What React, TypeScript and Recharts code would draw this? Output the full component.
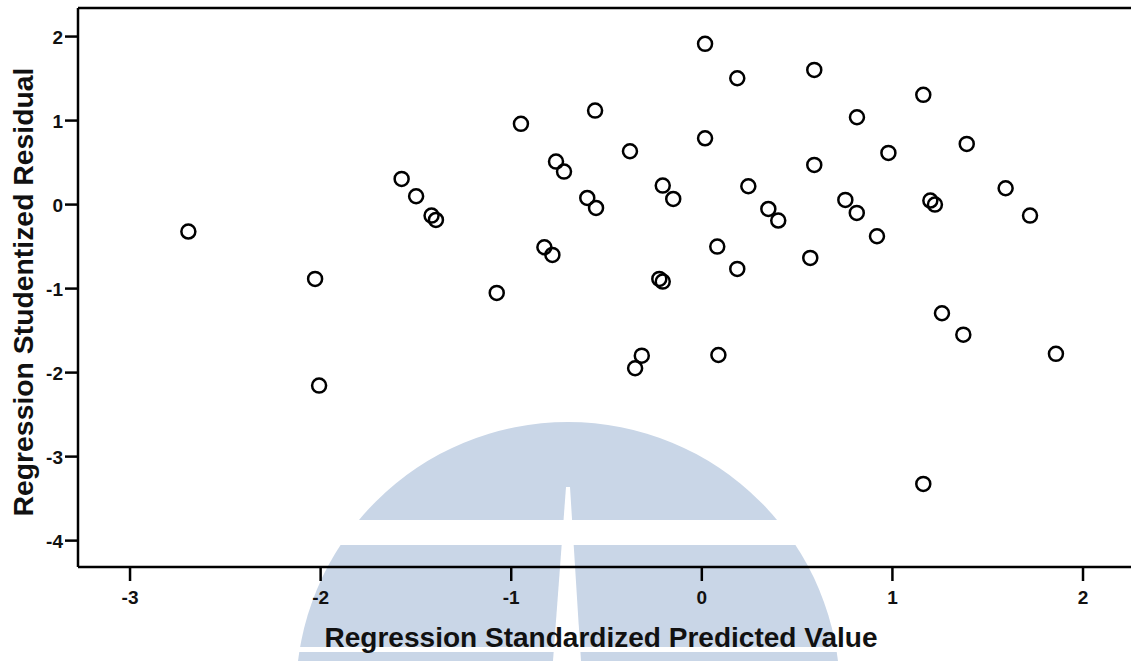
import React from 'react';
import { ScatterChart, Scatter, XAxis, YAxis, ReferenceLine } from 'recharts';

// standardized predicted value (x) and studentized residual (y)
const predicted = [
  -2.694, -2.029, -2.008, -1.575, -1.499, -1.418, -1.395, -1.076, -0.949, -0.826,
  -0.784, -0.765, -0.723, -0.601, -0.56, -0.555, -0.377, -0.35, -0.315, -0.223,
  -0.205, -0.205, -0.15, 0.017, 0.017, 0.081, 0.087, 0.186, 0.186, 0.244,
  0.349, 0.401, 0.569, 0.59, 0.59, 0.753, 0.813, 0.814, 0.919, 0.979,
  1.162, 1.162, 1.199, 1.223, 1.26, 1.372, 1.39, 1.594, 1.722, 1.858,
];
const residual = [
  -0.321, -0.885, -2.155, 0.306, 0.099, -0.131, -0.183, -1.051, 0.961, -0.508,
  -0.599, 0.512, 0.393, 0.079, 1.119, -0.04, 0.635, -1.948, -1.798, -0.885,
  -0.917, 0.226, 0.067, 1.913, 0.789, -0.5, -1.79, 1.504, -0.766, 0.218,
  -0.052, -0.19, -0.635, 1.603, 0.472, 0.056, -0.099, 1.04, -0.377, 0.615,
  1.306, -3.325, 0.048, 0.0, -1.294, -1.548, 0.722, 0.194, -0.131, -1.777,
];
const xTicks = [-3, -2, -1, 0, 1, 2];
const yTicks = [2, 1, 0, -1, -2, -3, -4];

const points = predicted.map((x, i) => ({ x, y: residual[i] }));

const FONT = "Arial, 'Liberation Sans', sans-serif";
const axisStyle = { stroke: '#000', strokeWidth: 2.5 };

const Ring = (props: any) => (
  <circle cx={props.cx} cy={props.cy} r={7} fill="none" stroke="#000" strokeWidth={2.5} />
);

const XTick = ({ x, y, payload }: any) => (
  <text x={x} y={y} dy={14} textAnchor="middle" style={{ fontFamily: FONT, fontWeight: 700, fontSize: 19 }} fill="#111">
    {payload.value}
  </text>
);

const YTick = ({ x, y, payload }: any) => (
  <text x={x} y={y} dy={7} textAnchor="end" style={{ fontFamily: FONT, fontWeight: 700, fontSize: 19 }} fill="#111">
    {payload.value}
  </text>
);

const XTitle = () => (
  <text x={601} y={647} textAnchor="middle" fontFamily={FONT} fontWeight={700} fontSize={28} fill="#111"
    textLength={553} lengthAdjust="spacingAndGlyphs">
    Regression Standardized Predicted Value
  </text>
);

const YTitle = () => (
  <text x={33} y={292} transform="rotate(-90 33 292)" textAnchor="middle" fontFamily={FONT} fontWeight={700}
    fontSize={28} fill="#111" textLength={449} lengthAdjust="spacingAndGlyphs">
    Regression Studentized Residual
  </text>
);

// faded logo watermark sitting behind the plot
const Watermark = () => (
  <svg width={1131} height={661} style={{ position: 'absolute', left: 0, top: 0 }}>
    <circle cx={568} cy={694} r={272} fill="#c9d6e7" />
    <rect x={0} y={520} width={1131} height={25} fill="#fff" />
    <rect x={0} y={647} width={1131} height={5} fill="#fff" />
    <polygon points="566,487 570,487 581,661 553,661" fill="#fff" />
  </svg>
);

export default function App() {
  return (
    <div style={{ position: 'fixed', left: 0, top: 0, width: 1131, height: 661, overflow: 'hidden', background: '#fff' }}>
      <Watermark />
      <div style={{ position: 'absolute', left: 0, top: 0 }}>
        <ScatterChart width={1145} height={661} margin={{ top: 8, right: 5, bottom: 0, left: 0 }}>
          <XAxis
            type="number"
            dataKey="x"
            domain={[-3.273, 2.299]}
            ticks={xTicks}
            allowDataOverflow
            height={94}
            tickSize={14}
            tickMargin={9}
            axisLine={axisStyle}
            tickLine={axisStyle}
            tick={<XTick />}
            label={<XTitle />}
          />
          <YAxis
            type="number"
            dataKey="y"
            domain={[-4.314, 2.34]}
            ticks={yTicks}
            allowDataOverflow
            width={78}
            tickSize={13}
            tickMargin={2}
            axisLine={axisStyle}
            tickLine={axisStyle}
            tick={<YTick />}
            label={<YTitle />}
          />
          <ReferenceLine y={2.34} stroke="#000" strokeWidth={2.5} />
          <Scatter data={points} shape={Ring} isAnimationActive={false} />
        </ScatterChart>
      </div>
    </div>
  );
}
